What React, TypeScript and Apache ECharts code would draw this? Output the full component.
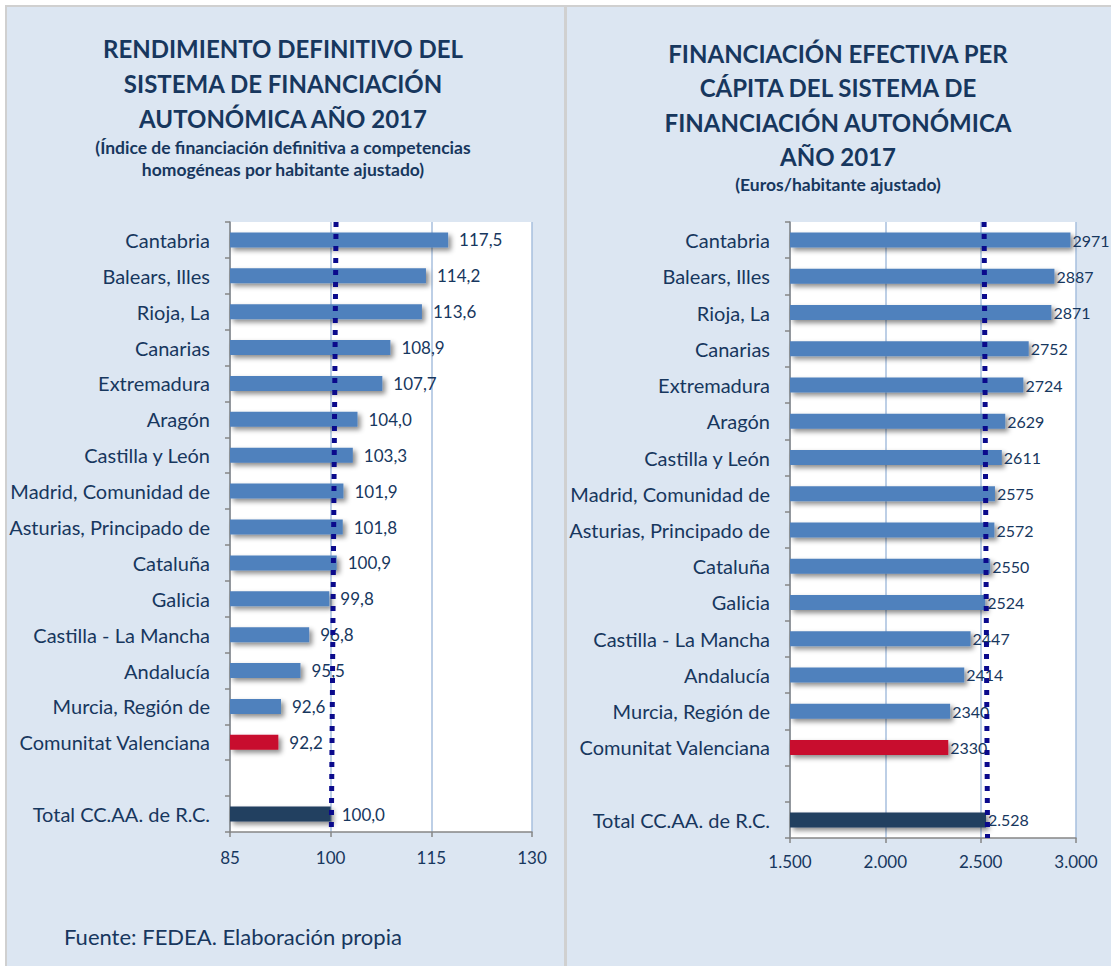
import React, { useEffect, useRef } from "react";
import * as echarts from "echarts";

const categories = [
  "Cantabria",
  "Balears, Illes",
  "Rioja, La",
  "Canarias",
  "Extremadura",
  "Aragón",
  "Castilla y León",
  "Madrid, Comunidad de",
  "Asturias, Principado de",
  "Cataluña",
  "Galicia",
  "Castilla - La Mancha",
  "Andalucía",
  "Murcia, Región de",
  "Comunitat Valenciana",
  "",
  "Total CC.AA. de R.C.",
];

const indexValues = [117.5, 114.2, 113.6, 108.9, 107.7, 104.0, 103.3, 101.9, 101.8, 100.9, 99.8, 96.8, 95.5, 92.6, 92.2, null, 100.0];
const euroValues = [2971, 2887, 2871, 2752, 2724, 2629, 2611, 2575, 2572, 2550, 2524, 2447, 2414, 2340, 2330, null, 2528];

const indexTicks = [85, 100, 115, 130];
const euroTicks = [1500, 2000, 2500, 3000];

// reference (average) lines: [x, relative height]
const indexRefLine = [[100.8, 1], [100.1, 0]];
const euroRefLine = [[2518, 1], [2536, 0]];

const HIGHLIGHT = "Comunitat Valenciana";
const TOTAL = "Total CC.AA. de R.C.";

const titleLeft = "RENDIMIENTO DEFINITIVO DEL\nSISTEMA DE FINANCIACIÓN\nAUTONÓMICA AÑO 2017";
const subLeft = "(Índice de financiación definitiva a competencias\nhomogéneas por habitante ajustado)";
const titleRight = "FINANCIACIÓN EFECTIVA PER\nCÁPITA DEL SISTEMA DE\nFINANCIACIÓN AUTONÓMICA\nAÑO 2017";
const subRight = "(Euros/habitante ajustado)";
const source = "Fuente: FEDEA. Elaboración propia";

const FONT = "Lato";
const TEXT = "#17375e";
const BLUE = "#4f81bd";
const RED = "#c8102e";
const DARK = "#243f60";

function thousands(v: number) {
  return String(Math.round(v)).replace(/\B(?=(\d{3})+(?!\d))/g, ".");
}

function colorFor(cat: string) {
  if (cat === HIGHLIGHT) return RED;
  if (cat === TOTAL) return DARK;
  return BLUE;
}

function barData(values: (number | null)[]) {
  return values.map((v, i) =>
    v === null
      ? null
      : {
          value: v,
          itemStyle: { color: colorFor(categories[i]) },
        }
  );
}

export default function App() {
  const ref = useRef<HTMLDivElement>(null);
  useEffect(() => {
    if (!ref.current) return;
    const chart = echarts.init(ref.current, null, { renderer: "svg" });

    const shadow = {
      shadowColor: "rgba(0,0,0,0.45)",
      shadowBlur: 5,
      shadowOffsetX: 3,
      shadowOffsetY: 3,
    };

    const catAxis = (gridIndex: number) => ({
      type: "category",
      gridIndex,
      data: categories,
      inverse: true,
      axisLine: { show: true, lineStyle: { color: "#868686", width: 1.5 } },
      axisTick: { show: true, length: 5, lineStyle: { color: "#868686", width: 1.5 } },
      axisLabel: { color: TEXT, fontSize: 20, fontFamily: FONT, margin: 20 },
      splitLine: { show: false },
    });

    const hiddenAxis = (gridIndex: number) => ({
      type: "value",
      gridIndex,
      min: 0,
      max: 1,
      show: false,
    });

    const option: any = {
      animation: false,
      backgroundColor: "#ffffff",
      textStyle: { fontFamily: FONT },
      graphic: [
        { type: "rect", z: -5, shape: { x: 5, y: 5, width: 560, height: 961 }, style: { fill: "#d0d0d0" } },
        { type: "rect", z: -4, shape: { x: 7, y: 7, width: 557, height: 959 }, style: { fill: "#dce6f2" } },
        { type: "rect", z: -5, shape: { x: 565, y: 5, width: 546, height: 961 }, style: { fill: "#d0d0d0" } },
        { type: "rect", z: -4, shape: { x: 567, y: 7, width: 544, height: 959 }, style: { fill: "#dce6f2" } },
        {
          type: "text",
          z: 10,
          x: 283,
          y: 31,
          style: { text: titleLeft, textAlign: "center", textVerticalAlign: "top", fill: TEXT, font: `bold 24px ${FONT}`, lineHeight: 35 },
        },
        {
          type: "text",
          z: 10,
          x: 283,
          y: 136,
          style: { text: subLeft, textAlign: "center", textVerticalAlign: "top", fill: TEXT, font: `bold 17.5px ${FONT}`, lineHeight: 22 },
        },
        {
          type: "text",
          z: 10,
          x: 838,
          y: 36,
          style: { text: titleRight, textAlign: "center", textVerticalAlign: "top", fill: TEXT, font: `bold 24px ${FONT}`, lineHeight: 34.5 },
        },
        {
          type: "text",
          z: 10,
          x: 838,
          y: 173,
          style: { text: subRight, textAlign: "center", textVerticalAlign: "top", fill: TEXT, font: `bold 17.5px ${FONT}`, lineHeight: 22 },
        },
        {
          type: "text",
          z: 10,
          x: 64,
          y: 936,
          style: { text: source, textAlign: "left", textVerticalAlign: "middle", fill: TEXT, font: `22px ${FONT}` },
        },
      ],
      grid: [
        { left: 230, top: 222, width: 302, height: 610, show: true, backgroundColor: "#ffffff", borderWidth: 0 },
        { left: 790, top: 222, width: 286, height: 616, show: true, backgroundColor: "#ffffff", borderWidth: 0 },
      ],
      xAxis: [
        {
          type: "value",
          gridIndex: 0,
          min: indexTicks[0],
          max: indexTicks[indexTicks.length - 1],
          axisLine: { show: true, lineStyle: { color: "#868686", width: 1.5 } },
          axisTick: { show: true, length: 5, customValues: indexTicks, lineStyle: { color: "#868686", width: 1.5 } },
          axisLabel: { customValues: indexTicks, color: TEXT, fontSize: 17, fontFamily: FONT, margin: 17 },
          splitLine: { show: true, lineStyle: { color: "#a7bfde", width: 1.5 } },
        },
        {
          type: "value",
          gridIndex: 1,
          min: euroTicks[0],
          max: euroTicks[euroTicks.length - 1],
          interval: euroTicks[1] - euroTicks[0],
          axisLine: { show: true, lineStyle: { color: "#868686", width: 1.5 } },
          axisTick: { show: true, length: 5, lineStyle: { color: "#868686", width: 1.5 } },
          axisLabel: { color: TEXT, fontSize: 17, fontFamily: FONT, margin: 15, formatter: (v: number) => thousands(v) },
          splitLine: { show: true, lineStyle: { color: "#a7bfde", width: 1.5 } },
        },
      ],
      yAxis: [catAxis(0), catAxis(1), hiddenAxis(0), hiddenAxis(1)],
      series: [
        {
          type: "bar",
          xAxisIndex: 0,
          yAxisIndex: 0,
          barWidth: 15,
          data: barData(indexValues),
          itemStyle: shadow,
          label: {
            show: true,
            position: "right",
            distance: 11,
            color: TEXT,
            fontSize: 17,
            fontFamily: FONT,
            formatter: (p: any) => Number(p.value).toFixed(1).replace(".", ","),
          },
          z: 2,
        },
        {
          type: "bar",
          xAxisIndex: 1,
          yAxisIndex: 1,
          barWidth: 15,
          data: barData(euroValues),
          itemStyle: shadow,
          label: {
            show: true,
            position: "right",
            distance: 2,
            color: TEXT,
            fontSize: 16,
            fontFamily: FONT,
            formatter: (p: any) => (p.name === TOTAL ? thousands(p.value) : String(p.value)),
          },
          z: 2,
        },
        {
          type: "line",
          xAxisIndex: 0,
          yAxisIndex: 2,
          data: indexRefLine,
          symbol: "none",
          clip: false,
          lineStyle: { color: "#0a0a8c", width: 5, type: [5, 7] },
          z: 5,
        },
        {
          type: "line",
          xAxisIndex: 1,
          yAxisIndex: 3,
          data: euroRefLine,
          symbol: "none",
          clip: false,
          lineStyle: { color: "#0a0a8c", width: 5, type: [5, 7] },
          z: 5,
        },
      ],
    };

    chart.setOption(option);
    return () => chart.dispose();
  }, []);

  return (
    <div
      ref={ref}
      style={{ position: "absolute", left: 0, top: 0, width: 1111, height: 966 }}
    />
  );
}
